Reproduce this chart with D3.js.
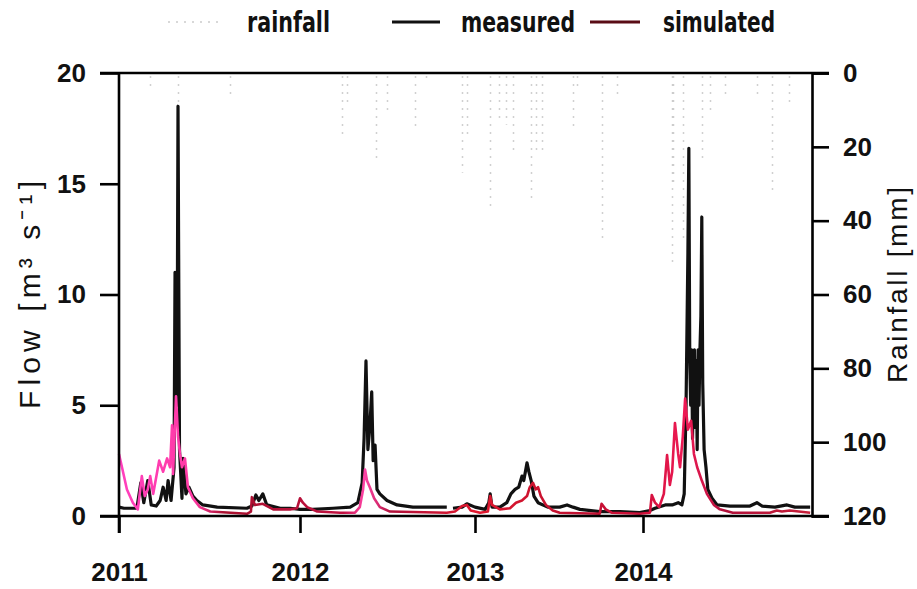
<!DOCTYPE html>
<html><head><meta charset="utf-8">
<script src="https://cdn.jsdelivr.net/npm/d3@7"></script>
<style>
body{margin:0;background:#fff;}
svg{display:block;}
</style></head>
<body>
<svg id="chart" width="917" height="589"></svg>
<script>
// ---------- data ----------
const yearTicks = ["2011-01-01","2012-01-01","2013-01-01","2014-01-01"];
const yearLabels = ["2011","2012","2013","2014"];
const flowTicks = [0,5,10,15,20];
const rainTicks = [0,20,40,60,80,100,120];

const rainDates = ["2011-03-05","2011-04-29","2011-08-12","2012-03-28","2012-04-08","2012-06-08","2012-07-01",
  "2012-08-28","2012-09-20","2012-12-04","2012-12-15","2013-02-03","2013-02-22","2013-03-09","2013-03-24",
  "2013-05-02","2013-05-13","2013-05-26","2013-08-01","2013-08-10","2013-10-03","2013-11-06","2014-03-04",
  "2014-03-07","2014-03-28","2014-05-08","2014-05-25","2014-06-27","2014-09-04","2014-10-06","2014-11-13"];
const rainMM = [4,8,6,17,8,23,10,15,3,27,17,37,13,14,21,34,22,22,16,5,45,6,52,30,45,23,11,7,6,32,8];

const measuredDates = ["2011-01-01","2011-01-11","2011-02-06","2011-02-14","2011-02-20","2011-02-28","2011-03-07",
  "2011-03-17","2011-03-25","2011-03-31","2011-04-06","2011-04-10","2011-04-16","2011-04-22","2011-04-24",
  "2011-04-25","2011-04-26","2011-04-28","2011-04-30","2011-05-03","2011-05-08","2011-05-10","2011-05-16",
  "2011-05-22","2011-05-30","2011-06-07","2011-06-19","2011-07-18","2011-09-16","2011-09-26","2011-10-04",
  "2011-10-10","2011-10-18","2011-10-26","2011-11-22","2011-12-12",
  "2012-01-01","2012-01-28","2012-03-10","2012-04-15","2012-05-01","2012-05-10","2012-05-14","2012-05-18",
  "2012-05-22","2012-05-26","2012-05-30","2012-06-02","2012-06-06","2012-06-10","2012-06-16","2012-07-01",
  "2012-07-22","2012-08-24","2012-11-03","2012-11-10","2012-11-16","2012-12-05","2012-12-15",
  "2013-01-01","2013-01-23","2013-01-31","2013-02-03","2013-02-07","2013-02-24","2013-03-11","2013-03-20",
  "2013-03-29","2013-04-06","2013-04-13","2013-04-17","2013-04-24","2013-04-28","2013-05-03","2013-05-09",
  "2013-05-18","2013-06-08","2013-07-04","2013-07-20","2013-08-02","2013-08-17","2013-09-29","2013-11-12",
  "2013-12-25",
  "2014-01-16","2014-01-27","2014-02-18","2014-03-05","2014-03-18","2014-03-26","2014-03-31","2014-04-04",
  "2014-04-08","2014-04-10","2014-04-12","2014-04-14","2014-04-16","2014-04-18","2014-04-20","2014-04-22",
  "2014-04-24","2014-04-26","2014-04-28","2014-04-30","2014-05-02","2014-05-04","2014-05-06","2014-05-08",
  "2014-05-10","2014-05-13","2014-05-17","2014-05-21","2014-05-30","2014-06-10","2014-07-08","2014-08-20",
  "2014-09-04","2014-09-15","2014-10-13","2014-11-08","2014-11-25","2014-12-28"];
const measuredFlow = [0.4,0.35,0.35,1.5,0.6,1.6,0.5,
  0.45,0.7,1.3,0.7,1.6,0.7,2.2,11,
  6,10.5,5,18.5,3,0.8,2.6,1.0,
  1.3,0.9,0.7,0.5,0.4,0.35,0.45,0.95,
  0.7,1.0,0.5,0.35,0.35,
  0.3,0.3,0.35,0.4,0.6,1.5,3.5,7.0,
  3.0,4.0,5.6,2.5,3.2,1.2,1.0,0.7,
  0.5,0.4,0.4,null,0.35,0.4,0.55,
  0.4,0.3,0.6,1.0,0.4,0.4,0.6,1.0,
  1.2,1.3,1.8,1.6,2.4,2.0,1.6,0.9,
  0.6,0.4,0.4,0.5,0.4,0.3,0.2,0.2,
  0.15,
  0.25,0.35,0.5,0.5,0.6,0.5,1.0,5,
  11.9,16.6,7,5,7.5,3.5,6.5,7.5,
  4,7,3,7.5,5,7.5,9,13.5,
  6,3,2.2,1.2,0.8,0.5,0.45,0.45,
  0.6,0.45,0.4,0.5,0.4,0.4];

const simulatedDates = ["2011-01-01","2011-01-07","2011-01-17","2011-01-29","2011-02-08","2011-02-16","2011-02-22",
  "2011-02-28","2011-03-05","2011-03-11","2011-03-19","2011-03-23","2011-03-31","2011-04-08","2011-04-14",
  "2011-04-18","2011-04-20","2011-04-26","2011-04-30","2011-05-04","2011-05-08","2011-05-14","2011-05-20",
  "2011-05-30","2011-06-13","2011-07-04","2011-09-16","2011-09-24","2011-09-26","2011-10-02","2011-10-18",
  "2011-11-08","2011-12-12","2011-12-26",
  "2012-01-01","2012-01-07","2012-01-16","2012-02-06","2012-03-25","2012-04-25","2012-05-05","2012-05-12",
  "2012-05-16","2012-05-20","2012-05-26","2012-06-04","2012-06-16","2012-07-07","2012-11-03","2012-11-20",
  "2012-12-05","2012-12-15","2012-12-23",
  "2013-01-12","2013-01-29","2013-02-03","2013-02-07","2013-02-24","2013-03-18","2013-03-31","2013-04-13",
  "2013-04-24","2013-04-30","2013-05-07","2013-05-13","2013-05-18","2013-05-24","2013-06-04","2013-06-19",
  "2013-07-04","2013-09-29","2013-10-03","2013-10-12","2013-10-25","2013-12-25",
  "2014-01-16","2014-01-20","2014-01-27","2014-02-05","2014-02-15","2014-02-22","2014-02-28","2014-03-05",
  "2014-03-11","2014-03-18","2014-03-22","2014-03-28","2014-04-02","2014-04-08","2014-04-15","2014-04-21",
  "2014-04-28","2014-05-08","2014-05-19","2014-06-03","2014-06-16","2014-07-14","2014-10-02","2014-10-17",
  "2014-10-28","2014-11-14","2014-12-28"];
const simulatedFlow = [2.8,2.2,1.2,0.6,0.3,1.8,0.9,
  1.2,1.8,1.0,2.0,2.5,2.0,2.6,2.2,
  4.1,1.9,5.4,3.6,2.8,2.2,2.6,1.3,
  0.8,0.4,0.2,0.1,0.2,0.85,0.5,0.55,
  0.3,0.3,0.35,
  0.8,0.6,0.4,0.2,0.15,0.15,0.4,1.2,
  2.1,1.6,1.3,0.8,0.4,0.2,0.15,0.2,
  0.45,0.5,0.25,
  0.15,0.2,0.9,0.5,0.3,0.35,0.6,0.7,
  0.9,1.3,1.5,1.2,1.3,0.9,0.5,0.25,
  0.15,0.1,0.55,0.3,0.15,0.1,
  0.15,0.95,0.6,0.4,1.0,2.75,1.4,2.0,
  4.2,2.8,2.2,3.6,5.3,3.9,4.3,2.8,
  2.2,1.6,1.0,0.5,0.3,0.15,0.15,0.25,
  0.2,0.25,0.15];

// ---------- drawing ----------
(function(){
const svg = d3.select("#chart");
const parse = d3.timeParse("%Y-%m-%d");
const yTop = 73, yBot = 516, xL = 119, xR = 812;

const x = d3.scaleTime()
  .domain(["2011-01-01","2012-01-01","2013-01-01","2014-01-01","2015-01-01"].map(parse))
  .range([119,300,475,643,812]);
const y = d3.scaleLinear().domain([0,20]).range([yBot, yTop]);
const yR = d3.scaleLinear().domain([0,120]).range([yTop, yBot]);

// rainfall (hanging from top)
const rain = rainDates.map((d,i)=>({date:parse(d), v:rainMM[i]}));
svg.append("g").selectAll("line").data(rain).join("line")
  .attr("x1", d=>Math.round(x(d.date))+0.5).attr("x2", d=>Math.round(x(d.date))+0.5)
  .attr("y1", yR(0)+3).attr("y2", d=>yR(d.v))
  .attr("stroke","#bdbdbd").attr("stroke-width",1.5)
  .attr("stroke-dasharray","2,6").attr("opacity",0.7);

// gradient for simulated
const defs = svg.append("defs");
const grad = defs.append("linearGradient").attr("id","simgrad")
  .attr("gradientUnits","userSpaceOnUse")
  .attr("x1",xL).attr("x2",xR).attr("y1",0).attr("y2",0);
const gstops = [["2011-01-01","#ff40bd"],["2011-06-01","#ff3aa4"],["2011-08-01","#a8102e"],
  ["2012-04-01","#c01040"],["2012-05-15","#ff45a8"],["2012-07-10","#b0103a"],["2013-01-01","#e0182e"],
  ["2013-08-01","#c01030"],["2014-01-01","#d0103a"],["2014-04-01","#ee1a55"],["2014-07-01","#b0103a"],
  ["2014-12-31","#c8203a"]];
gstops.forEach(s=>grad.append("stop")
  .attr("offset",((x(parse(s[0]))-xL)/(xR-xL)).toFixed(4)).attr("stop-color",s[1]));

// lines
const meas = measuredDates.map((d,i)=>({date:parse(d), v:measuredFlow[i]}));
const sim = simulatedDates.map((d,i)=>({date:parse(d), v:simulatedFlow[i]}));
const line = d3.line().defined(d=>d.v!==null).x(d=>x(d.date)).y(d=>y(d.v));

svg.append("path").datum(meas).attr("d",line)
  .attr("fill","none").attr("stroke","#111").attr("stroke-width",3.2).attr("stroke-linejoin","round");
svg.append("path").datum(sim).attr("d",line)
  .attr("fill","none").attr("stroke","url(#simgrad)").attr("stroke-width",2.6).attr("stroke-linejoin","round");

// frame / axes
const tickFont = "'Liberation Sans', Arial, sans-serif";
const axW = 2.6;
svg.append("line").attr("x1",100).attr("x2",829).attr("y1",yTop).attr("y2",yTop)
  .attr("stroke","#000").attr("stroke-width",axW);
svg.append("line").attr("x1",100).attr("x2",829).attr("y1",yBot).attr("y2",yBot)
  .attr("stroke","#000").attr("stroke-width",axW);

const gL = svg.append("g").attr("transform",`translate(${xL},0)`)
  .call(d3.axisLeft(y).tickValues(flowTicks).tickSize(19).tickPadding(14).tickFormat(d3.format("d")));
const gR = svg.append("g").attr("transform",`translate(${xR},0)`)
  .call(d3.axisRight(yR).tickValues(rainTicks).tickSize(17).tickPadding(14).tickFormat(d3.format("d")));
const gB = svg.append("g").attr("transform",`translate(0,${yBot})`)
  .call(d3.axisBottom(x).tickValues(yearTicks.map(parse)).tickSize(17).tickPadding(30)
    .tickFormat((d,i)=>yearLabels[i]));
[gL,gR,gB].forEach(g=>{
  g.select(".domain").attr("stroke","#000").attr("stroke-width",axW);
  g.selectAll(".tick line").attr("stroke","#000").attr("stroke-width",axW);
  g.selectAll("text").attr("font-family",tickFont).attr("font-size",26)
    .attr("font-weight","bold").attr("fill","#111");
});
gB.select(".domain").remove();
gL.select(".domain").attr("d",`M0,${yTop}V${yBot+17}`);

// axis titles
svg.append("text").attr("transform","translate(40,295) rotate(-90)")
  .attr("text-anchor","middle").attr("font-family",tickFont).attr("font-size",30)
  .attr("textLength",228).attr("lengthAdjust","spacing")
  .attr("fill","#111").text("Flow [m³ s⁻¹]");
svg.append("text").attr("transform","translate(907,285) rotate(-90)")
  .attr("text-anchor","middle").attr("font-family",tickFont).attr("font-size",28)
  .attr("textLength",196).attr("lengthAdjust","spacing")
  .attr("fill","#111").text("Rainfall [mm]");

// legend
const legFont = "'Liberation Sans Narrow', 'DejaVu Sans Condensed', 'Liberation Sans', sans-serif";
svg.append("line").attr("x1",168).attr("x2",222).attr("y1",22).attr("y2",22)
  .attr("stroke","#d8d8d8").attr("stroke-width",2).attr("stroke-dasharray","2,6");
svg.append("line").attr("x1",392).attr("x2",440).attr("y1",22).attr("y2",22)
  .attr("stroke","#111").attr("stroke-width",3.2);
svg.append("line").attr("x1",590).attr("x2",640).attr("y1",22).attr("y2",22)
  .attr("stroke","#5a0c16").attr("stroke-width",3.2);
const legItems = [["rainfall",247,83],["measured",461,114],["simulated",663,112]];
legItems.forEach(l=>svg.append("text").attr("x",l[1]).attr("y",32)
  .attr("font-family",legFont).attr("font-weight","bold").attr("font-size",28)
  .attr("textLength",l[2]).attr("lengthAdjust","spacingAndGlyphs")
  .attr("fill","#111").text(l[0]));
})();
</script>
</body></html>
